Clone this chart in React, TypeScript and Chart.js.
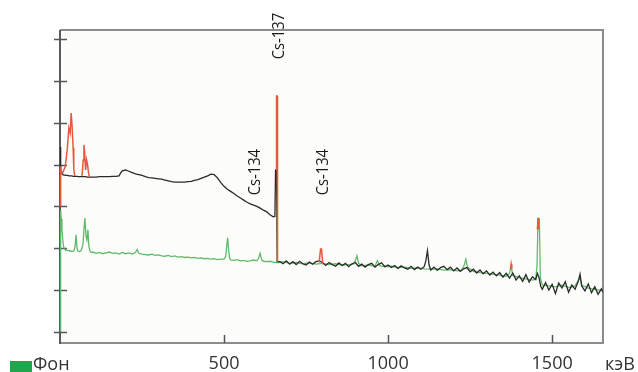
import React, { useEffect, useRef } from "react";
import { Chart, registerables } from "chart.js";

Chart.register(...registerables);

// ---- axes ----
const xTickValues = [500, 1000, 1500];
const yTickValues = [0, 1, 2, 3, 4, 5, 6, 7];
const xMin = 0;
const xMax = 1655;
const yMin = -0.263;
const yMax = 7.215;
const xUnit = "кэВ";
const legendLabel = "Фон";

// ---- sample spectrum (black) ----
const sampleEnergy = [
  0, 1, 3, 6, 9, 12, 15, 18, 21, 24,
  27, 30, 33, 36, 40, 43, 46, 49, 52, 55,
  60, 65, 70, 73, 76, 79, 82, 85, 88, 92,
  96, 100, 110, 120, 130, 140, 150, 160, 170, 180,
  185, 190, 200, 210, 220, 230, 240, 250, 260, 270,
  280, 290, 300, 310, 320, 330, 340, 350, 360, 370,
  380, 390, 400, 410, 420, 430, 440, 450, 460, 470,
  480, 490, 500, 510, 520, 530, 540, 550, 560, 570,
  580, 590, 600, 610, 620, 630, 640, 650, 655, 657,
  660, 662, 670, 680, 690, 700, 710, 720, 730, 740,
  750, 760, 770, 780, 790, 800, 810, 820, 830, 840,
  850, 860, 870, 880, 890, 900, 910, 920, 930, 940,
  950, 960, 970, 980, 990, 1000, 1010, 1020, 1030, 1040,
  1050, 1060, 1070, 1080, 1090, 1100, 1110, 1115, 1120, 1125,
  1130, 1140, 1150, 1160, 1170, 1180, 1190, 1200, 1210, 1220,
  1230, 1240, 1250, 1260, 1270, 1280, 1290, 1300, 1310, 1320,
  1330, 1340, 1350, 1360, 1370, 1380, 1390, 1400, 1410, 1420,
  1430, 1440, 1450, 1455, 1460, 1465, 1470, 1480, 1490, 1500,
  1510, 1520, 1530, 1540, 1550, 1560, 1570, 1580, 1585, 1590,
  1600, 1610, 1620, 1630, 1640, 1650, 1655,
];
const sampleCounts = [
  4.42, 4.0, 3.82, 3.78, 3.76, 3.75, 3.75, 3.74, 3.74, 3.74,
  3.73, 3.73, 3.73, 3.73, 3.72, 3.72, 3.72, 3.72, 3.72, 3.71,
  3.71, 3.71, 3.71, 3.71, 3.71, 3.71, 3.7, 3.7, 3.7, 3.7,
  3.7, 3.7, 3.7, 3.71, 3.71, 3.71, 3.71, 3.72, 3.72, 3.73,
  3.8, 3.85, 3.87, 3.84, 3.81, 3.78, 3.76, 3.74, 3.71, 3.69,
  3.68, 3.67, 3.66, 3.65, 3.63, 3.61, 3.59, 3.58, 3.58, 3.58,
  3.58, 3.59, 3.6, 3.62, 3.64, 3.67, 3.7, 3.73, 3.77, 3.76,
  3.68, 3.57, 3.48, 3.41, 3.36, 3.31, 3.25, 3.2, 3.15, 3.1,
  3.06, 3.03, 3.0, 2.96, 2.91, 2.87, 2.8, 2.75, 2.76, 3.87,
  3.87, 1.68, 1.68, 1.63, 1.7, 1.62, 1.68, 1.61, 1.69, 1.63,
  1.6, 1.67, 1.62, 1.68, 1.7, 1.66, 1.59, 1.66, 1.61, 1.57,
  1.65, 1.59, 1.64, 1.56, 1.63, 1.66, 1.57, 1.62, 1.55, 1.61,
  1.64, 1.55, 1.61, 1.65, 1.56, 1.6, 1.54, 1.59, 1.52, 1.58,
  1.53, 1.5, 1.57, 1.49, 1.55, 1.5, 1.56, 1.7, 1.94, 1.6,
  1.48, 1.55, 1.47, 1.54, 1.57, 1.49, 1.55, 1.46, 1.53, 1.45,
  1.51, 1.54, 1.44, 1.5, 1.41, 1.48, 1.39, 1.46, 1.36, 1.43,
  1.34, 1.42, 1.31, 1.4, 1.29, 1.41, 1.24, 1.34, 1.21, 1.37,
  1.19, 1.32, 1.25, 1.4, 1.3, 1.1, 1.02, 1.18, 1.0, 1.14,
  0.92, 1.17, 1.05, 1.2, 0.95, 1.12, 1.02, 1.22, 1.38, 1.1,
  0.98, 1.15, 0.94, 1.08, 0.9, 1.03, 0.96,
];

// ---- background spectrum "Фон" (green) ----
const bgEnergy = [
  0, 2, 4, 6, 9, 12, 15, 18, 21, 24,
  27, 30, 33, 36, 40, 43, 46, 49, 52, 55,
  60, 65, 70, 73, 76, 79, 82, 85, 88, 92,
  96, 100, 110, 120, 130, 140, 150, 160, 170, 180,
  190, 200, 210, 220, 230, 235, 240, 250, 260, 270,
  280, 290, 300, 310, 320, 330, 340, 350, 360, 370,
  380, 390, 400, 410, 420, 430, 440, 450, 460, 470,
  480, 490, 500, 505, 508, 511, 514, 517, 520, 530,
  540, 550, 560, 570, 580, 590, 600, 605, 610, 615,
  620, 630, 640, 650, 660, 667, 680, 700, 720, 740,
  760, 780, 800, 820, 840, 860, 880, 895, 900, 905,
  910, 920, 940, 960, 967, 975, 990, 1010, 1030, 1050,
  1070, 1090, 1110, 1130, 1150, 1170, 1190, 1210, 1225, 1232,
  1237, 1242, 1260, 1280, 1300, 1320, 1340, 1360, 1370, 1375,
  1380, 1400, 1420, 1440, 1450, 1454, 1457, 1461, 1464, 1470,
  1490, 1510, 1530, 1550, 1570, 1585, 1590, 1610, 1630, 1655,
];
const bgCounts = [
  0.02, 2.9, 2.7, 2.45, 2.15, 2.0, 1.97, 1.95, 1.96, 1.94,
  1.95, 1.93, 1.94, 1.92, 1.93, 1.95, 2.05, 2.32, 2.0, 1.93,
  1.92, 1.95, 2.1, 2.45, 2.72, 2.3, 2.2, 2.44, 2.05, 1.92,
  1.9, 1.91, 1.88, 1.9, 1.87, 1.89, 1.91, 1.88, 1.89, 1.86,
  1.9, 1.87, 1.89, 1.86, 1.9, 1.97, 1.88, 1.86, 1.85, 1.84,
  1.86, 1.83, 1.84, 1.82, 1.81, 1.83, 1.8, 1.82, 1.79, 1.8,
  1.78, 1.79, 1.77, 1.78, 1.76, 1.77, 1.75, 1.76, 1.74, 1.75,
  1.73, 1.74, 1.74, 1.8, 2.05, 2.25, 1.95, 1.76, 1.72, 1.71,
  1.73, 1.7, 1.71, 1.69, 1.7, 1.72, 1.7, 1.76, 1.88, 1.72,
  1.69, 1.68, 1.69, 1.67, 1.66, 1.66, 1.68, 1.64, 1.66, 1.63,
  1.65, 1.62, 1.64, 1.61, 1.63, 1.6, 1.61, 1.62, 1.7, 1.82,
  1.64, 1.58, 1.6, 1.57, 1.7, 1.58, 1.56, 1.57, 1.54, 1.55,
  1.52, 1.53, 1.51, 1.5, 1.51, 1.48, 1.49, 1.46, 1.48, 1.6,
  1.74, 1.55, 1.45, 1.42, 1.4, 1.38, 1.36, 1.33, 1.4, 1.58,
  1.35, 1.3, 1.27, 1.24, 1.26, 1.6, 2.72, 2.7, 1.3, 1.12,
  1.1, 1.08, 1.12, 1.06, 1.1, 1.3, 1.12, 1.05, 1.02, 0.98,
];

// ---- highlighted peak regions of the sample (red), null = gap ----
const peakEnergy = [
  0, 2, 4, 8, 16, 22, 27, 31, 34, 37, 40, 42, 45, 45,
  67, 71, 73, 75, 78, 81, 84, 87, 90, 90,
  659, 660, 662, 663, 663,
  790, 794, 797, 801, 801,
  1373, 1375, 1377, 1377,
  1455, 1457, 1459,
];
const peakCounts = [
  3.02, 3.95, 3.82, 3.8, 3.95, 4.35, 4.87, 4.75, 5.23, 4.9, 4.4, 3.9, 3.73, null,
  3.73, 4.11, 4.47, 4.3, 3.87, 4.11, 4.0, 3.8, 3.7, null,
  3.87, 5.64, 5.64, 1.68, null,
  1.66, 1.98, 1.98, 1.62, null,
  1.5, 1.62, 1.5, null,
  2.45, 2.72, 2.45,
];

// ---- nuclide labels ----
const nuclideNames = ["Cs-134", "Cs-137", "Cs-134"];
const nuclideEnergy = [605, 662, 796];
const nuclideLevel = [3.82, 7.07, 3.82];
const nuclideShift = [-3, 2, 2];

const FONT = "'Open Sans', 'Noto Sans', sans-serif";

const decorPlugin = {
  id: "decor",
  beforeDraw(chart: any) {
    const { ctx, chartArea: a } = chart;
    ctx.save();
    ctx.fillStyle = "#ffffff";
    ctx.fillRect(0, 0, chart.width, chart.height);
    ctx.fillStyle = "#fcfdfa";
    ctx.fillRect(a.left, a.top, a.right - a.left, a.bottom - a.top);
    ctx.restore();
  },
  beforeDatasetsDraw(chart: any) {
    const { ctx, chartArea: a } = chart;
    const xs = chart.scales.x;
    const ys = chart.scales.y;
    ctx.save();
    ctx.strokeStyle = "#8c8c8c";
    ctx.lineWidth = 2;
    ctx.beginPath();
    ctx.moveTo(a.left, a.top);
    ctx.lineTo(a.right, a.top);
    ctx.lineTo(a.right, a.bottom);
    ctx.lineTo(a.left, a.bottom);
    ctx.stroke();
    ctx.strokeStyle = "#5a5a5a";
    ctx.beginPath();
    ctx.moveTo(a.left, a.top);
    ctx.lineTo(a.left, a.bottom + 1);
    ctx.stroke();
    ctx.strokeStyle = "#555";
    ctx.lineWidth = 1.5;
    yTickValues.forEach((v) => {
      const y = Math.round(ys.getPixelForValue(v)) + 0.5;
      ctx.beginPath();
      ctx.moveTo(a.left - 6, y);
      ctx.lineTo(a.left + 7, y);
      ctx.stroke();
    });
    xTickValues.forEach((v) => {
      const x = Math.round(xs.getPixelForValue(v)) + 0.5;
      ctx.beginPath();
      ctx.moveTo(x, a.bottom);
      ctx.lineTo(x, a.bottom - 8);
      ctx.stroke();
    });
    ctx.restore();
  },
  afterDraw(chart: any) {
    const { ctx, chartArea: a } = chart;
    const xs = chart.scales.x;
    const ys = chart.scales.y;
    ctx.save();
    ctx.fillStyle = "#1a1a1a";
    ctx.font = `16px ${FONT}`;
    ctx.textAlign = "center";
    ctx.textBaseline = "middle";
    nuclideNames.forEach((name, i) => {
      const px = xs.getPixelForValue(nuclideEnergy[i]) + nuclideShift[i];
      const py = ys.getPixelForValue(nuclideLevel[i]);
      ctx.save();
      ctx.translate(px, py);
      ctx.rotate(-Math.PI / 2);
      ctx.scale(0.92, 1);
      ctx.fillText(name, 0, 0);
      ctx.restore();
    });
    ctx.font = `18px ${FONT}`;
    ctx.fillStyle = "#333";
    ctx.textAlign = "left";
    ctx.textBaseline = "alphabetic";
    ctx.fillText(xUnit, a.right + 2, 370);
    ctx.fillStyle = "#1ea64c";
    ctx.fillRect(10, 361, 22, 11);
    ctx.fillStyle = "#333";
    ctx.fillText(legendLabel, 33, 370);
    ctx.restore();
  },
};

export default function App() {
  const canvasRef = useRef<HTMLCanvasElement | null>(null);

  useEffect(() => {
    const canvas = canvasRef.current;
    if (!canvas) return;
    const toPts = (xs: number[], ys: (number | null)[]) =>
      xs.map((x, i) => ({ x, y: ys[i] }));

    const chart = new Chart(canvas, {
      type: "line",
      data: {
        datasets: [
          {
            label: "peaks",
            data: toPts(peakEnergy, peakCounts) as any,
            borderColor: "#e55a3c",
            borderWidth: 1.5,
            pointRadius: 0,
            tension: 0,
            spanGaps: false,
          },
          {
            label: "sample",
            data: toPts(sampleEnergy, sampleCounts) as any,
            borderColor: "#2a2a2a",
            borderWidth: 1.3,
            pointRadius: 0,
            tension: 0,
          },
          {
            label: legendLabel,
            data: toPts(bgEnergy, bgCounts) as any,
            borderColor: "#62b96a",
            borderWidth: 1.3,
            pointRadius: 0,
            tension: 0,
          },
        ],
      },
      options: {
        responsive: false,
        maintainAspectRatio: false,
        devicePixelRatio: 1,
        animation: false,
        events: [],
        layout: { padding: { left: 0, right: 35, top: 30, bottom: 0 } },
        plugins: { legend: { display: false }, tooltip: { enabled: false } },
        scales: {
          x: {
            type: "linear",
            min: xMin,
            max: xMax,
            grid: { display: false, drawTicks: false },
            border: { display: false },
            afterBuildTicks: (s: any) => {
              s.ticks = xTickValues.map((v) => ({ value: v }));
            },
            afterFit: (s: any) => {
              s.height = 29;
            },
            ticks: {
              color: "#333",
              font: { family: FONT, size: 18 },
              padding: 10,
              maxRotation: 0,
              autoSkip: false,
              callback: (v: any) => String(v),
            },
          },
          y: {
            type: "linear",
            min: yMin,
            max: yMax,
            grid: { display: false, drawTicks: false },
            border: { display: false },
            afterBuildTicks: (s: any) => {
              s.ticks = yTickValues.map((v) => ({ value: v }));
            },
            afterFit: (s: any) => {
              s.width = 60;
            },
            ticks: { display: false },
          },
        },
      },
      plugins: [decorPlugin],
    });
    return () => chart.destroy();
  }, []);

  return (
    <div style={{ position: "absolute", left: 0, top: 0, width: 638, height: 372 }}>
      <canvas ref={canvasRef} width={638} height={372} style={{ display: "block" }} />
    </div>
  );
}
